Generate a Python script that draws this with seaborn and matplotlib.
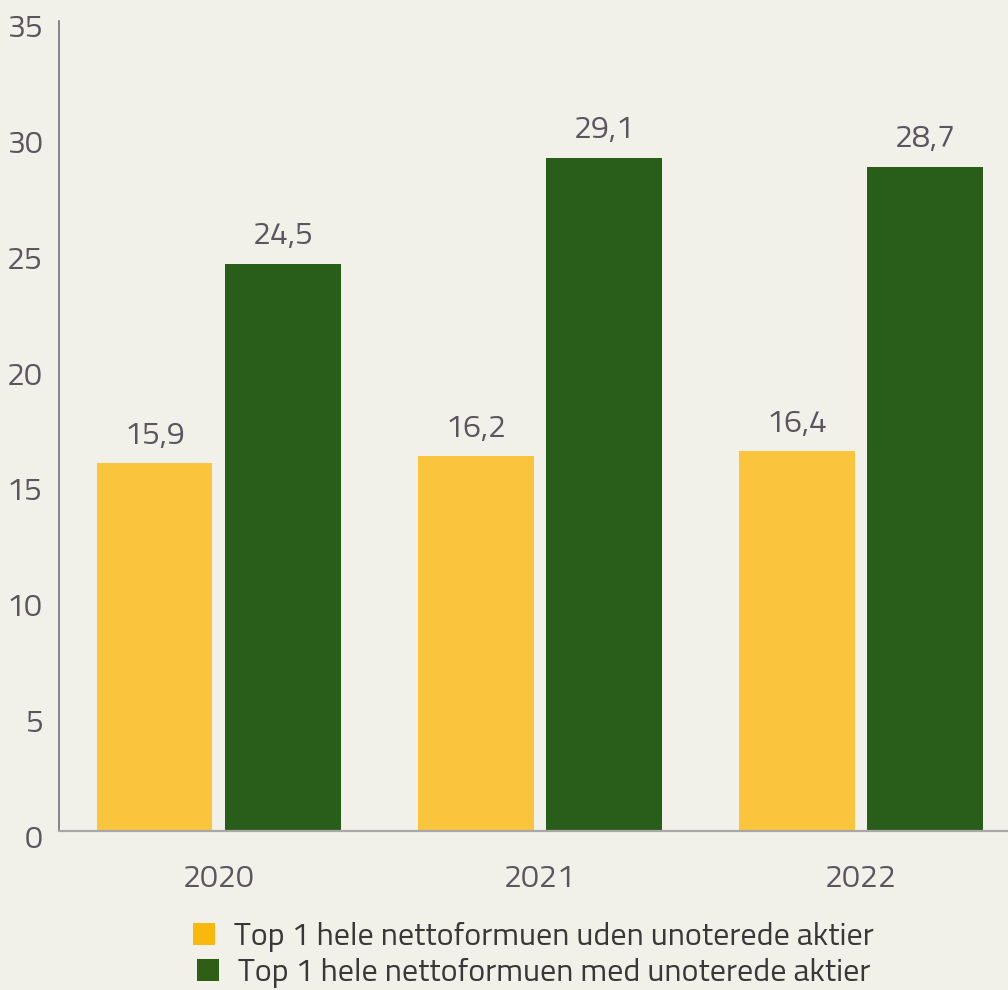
import matplotlib
matplotlib.use("Agg")
import matplotlib.pyplot as plt
import matplotlib.transforms as mtransforms
from matplotlib.patches import Patch
import seaborn as sns
import pandas as pd

# Data
years = ["2020", "2021", "2022"]
uden = [15.9, 16.2, 16.4]
med = [24.5, 29.1, 28.7]
series_names = [
    "Top 1 hele nettoformuen uden unoterede aktier",
    "Top 1 hele nettoformuen med unoterede aktier",
]
y_ticks = [0, 5, 10, 15, 20, 25, 30, 35]

BG = "#F2F1E9"
BAR_COLORS = ["#FAC53C", "#285E1A"]
LEGEND_COLORS = ["#F9B80E", "#2F5F15"]
TEXT = "#5B5560"
LEGEND_TEXT = "#383838"
FS = 23

sns.set_theme(style="white")
plt.rcParams["font.family"] = ["Titillium Web", "DejaVu Sans"]

df = pd.DataFrame({
    "year": years * 2,
    "value": uden + med,
    "series": [series_names[0]] * 3 + [series_names[1]] * 3,
})

fig = plt.figure(figsize=(10.08, 9.9), dpi=100, facecolor=BG)
ax = fig.add_axes([59 / 1008, 159 / 990, 1 - 59 / 1008, (831 - 21) / 990])
ax.set_facecolor(BG)

sns.barplot(
    data=df, x="year", y="value", hue="series",
    palette=BAR_COLORS, width=0.8, gap=0.1, linewidth=0,
    saturation=1, legend=False, ax=ax, errorbar=None,
)

ax.set_xlim(-0.498, 2.458)
ax.set_ylim(0, 35)
ax.set_yticks(y_ticks)
ax.set_xlabel("")
ax.set_ylabel("")

for spine in ["top", "right"]:
    ax.spines[spine].set_visible(False)
ax.spines["left"].set_color("#6B6570")
ax.spines["left"].set_linewidth(1.1)
ax.spines["bottom"].set_color("#A9A7A7")
ax.spines["bottom"].set_linewidth(1.6)

ax.tick_params(axis="y", length=0, pad=12, labelsize=FS, labelcolor=TEXT)
ax.tick_params(axis="x", length=0, pad=24, labelsize=FS, labelcolor=TEXT)

# shift y tick labels slightly downward
offset = mtransforms.ScaledTranslation(0, -5 / 100, fig.dpi_scale_trans)
for lbl in ax.get_yticklabels():
    lbl.set_transform(lbl.get_transform() + offset)

# value labels with decimal comma
for container in ax.containers:
    vals = container.datavalues
    ax.bar_label(
        container,
        labels=[f"{v:.1f}".replace(".", ",") for v in vals],
        padding=9, fontsize=FS, color=TEXT,
    )

# legend, one centered row per series
cx = (59 + 1008) / 2 / 1008
for name, color, ypos in zip(series_names, LEGEND_COLORS, [937 / 990, 973 / 990]):
    fig.legend(
        handles=[Patch(facecolor=color, edgecolor="none", label=name)],
        loc="center", bbox_to_anchor=(cx, 1 - ypos),
        frameon=False, fontsize=FS, labelcolor=LEGEND_TEXT,
        handlelength=0.7, handleheight=0.7, handletextpad=0.6,
        borderpad=0, borderaxespad=0,
    )

fig.savefig("out.png", dpi=100, facecolor=BG)
